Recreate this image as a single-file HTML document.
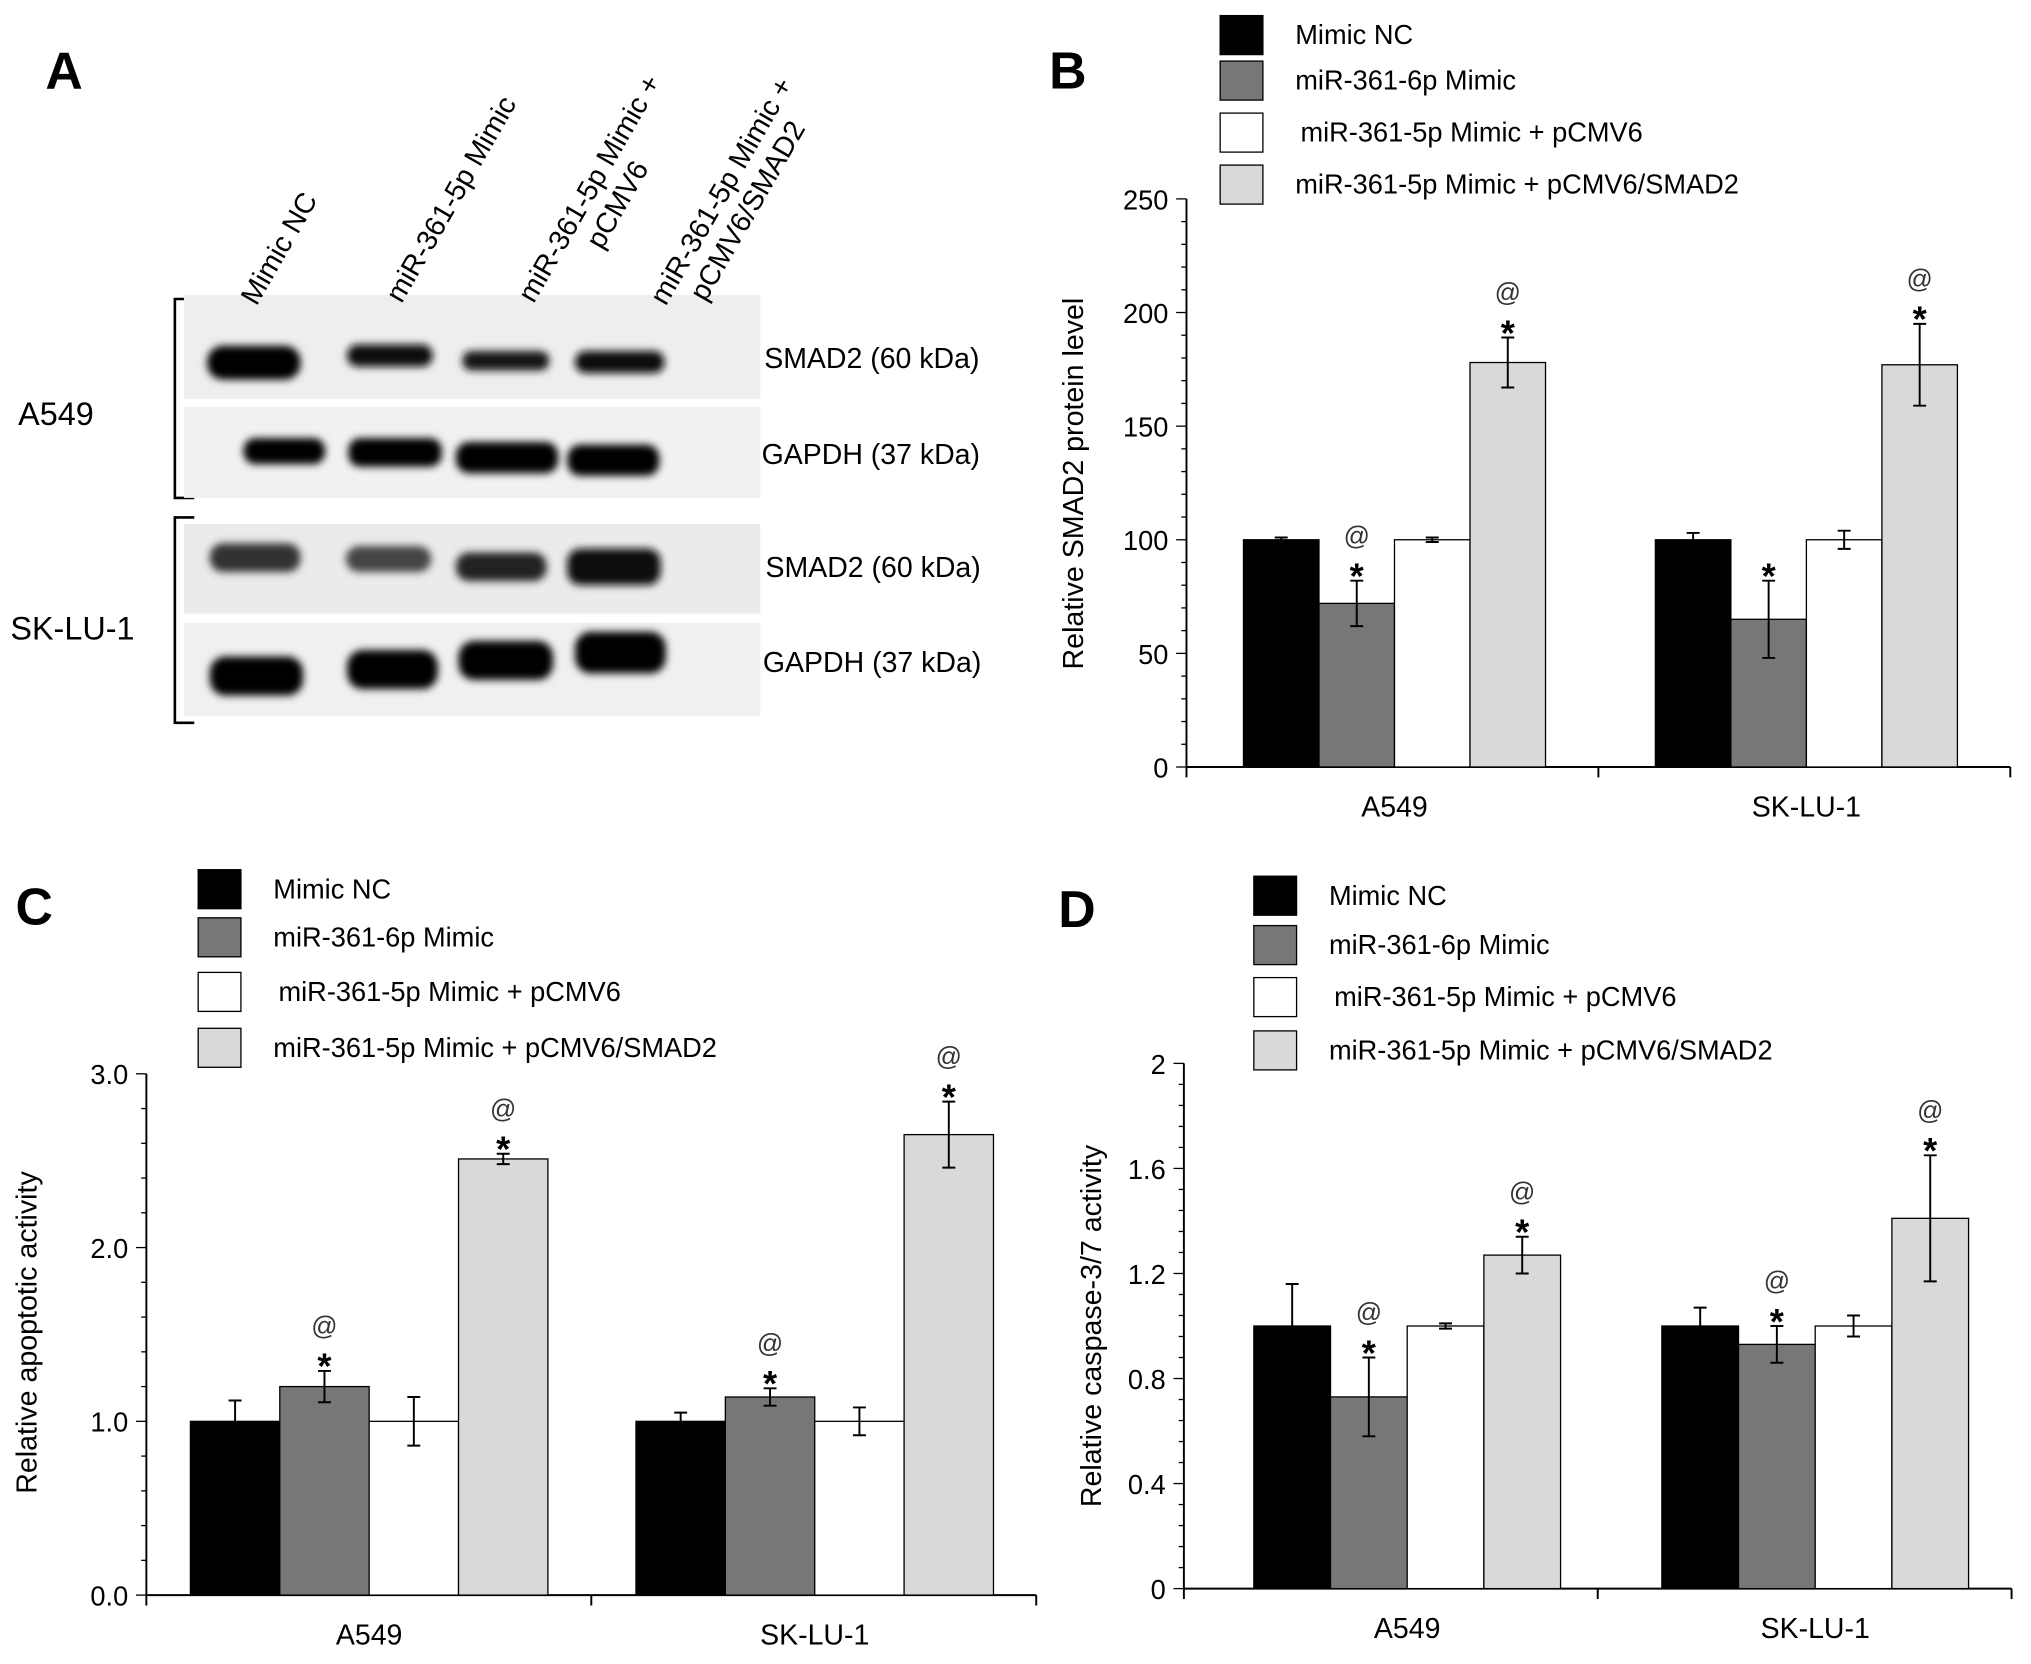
<!DOCTYPE html>
<html><head><meta charset="utf-8"><style>
html,body{margin:0;padding:0;background:#fff;}
svg{display:block;font-family:"Liberation Sans",Arial,sans-serif;}
</style></head><body>
<svg id="fig" width="2031" height="1664" viewBox="0 0 1568 1280" preserveAspectRatio="none" xmlns="http://www.w3.org/2000/svg">
<defs><filter id="blur" x="-20%" y="-50%" width="140%" height="200%"><feGaussianBlur stdDeviation="3"/></filter></defs>
<g id="panelA">
  <text x="35" y="68" font-size="40" font-weight="bold">A</text>
  <path d="M150,230 H135 V383 H150 M150,398 H135 V556 H150" fill="none" stroke="#000" stroke-width="2"/>
  <text x="14" y="327" font-size="25">A549</text>
  <text x="8" y="492" font-size="25">SK-LU-1</text>
  <rect x="142" y="227" width="445" height="80" fill="#eee"/>
  <rect x="142" y="313" width="445" height="70" fill="#f1f1f1"/>
  <rect x="142" y="403" width="445" height="69" fill="#ebebeb"/>
  <rect x="142" y="479" width="445" height="72" fill="#f0f0f0"/>
  <g font-size="22">
    <text transform="translate(198,236) rotate(-60)">Mimic NC</text>
    <text transform="translate(310,234) rotate(-60)">miR-361-5p Mimic</text>
    <text transform="translate(412,234) rotate(-60)"><tspan x="0" y="0">miR-361-5p Mimic +</tspan><tspan x="62" y="25">pCMV6</tspan></text>
    <text transform="translate(514,236) rotate(-60)"><tspan x="0" y="0">miR-361-5p  Mimic +</tspan><tspan x="18" y="25">pCMV6/SMAD2</tspan></text>
  </g>
  <g filter="url(#blur)">
    <rect x="160" y="266" width="72" height="26" rx="12" fill="#000"/>
    <rect x="268" y="265" width="66" height="17" rx="8" fill="#111"/>
    <rect x="357" y="270" width="67" height="15" rx="7" fill="#161616"/>
    <rect x="444" y="270" width="69" height="17" rx="8" fill="#111"/>
    <rect x="188" y="337" width="63" height="20" rx="9" fill="#000"/>
    <rect x="269" y="337" width="72" height="22" rx="9" fill="#000"/>
    <rect x="352" y="340" width="79" height="24" rx="10" fill="#000"/>
    <rect x="438" y="342" width="71" height="24" rx="10" fill="#000"/>
    <rect x="162" y="418" width="70" height="22" rx="10" fill="#333"/>
    <rect x="267" y="420" width="66" height="20" rx="10" fill="#444"/>
    <rect x="352" y="425" width="70" height="22" rx="10" fill="#222"/>
    <rect x="438" y="422" width="72" height="28" rx="10" fill="#111"/>
    <rect x="162" y="505" width="72" height="30" rx="12" fill="#000"/>
    <rect x="268" y="500" width="70" height="30" rx="12" fill="#000"/>
    <rect x="354" y="493" width="73" height="30" rx="12" fill="#000"/>
    <rect x="444" y="486" width="70" height="32" rx="12" fill="#000"/>
  </g>
  <g font-size="22">
    <text x="590" y="283">SMAD2 (60 kDa)</text>
    <text x="588" y="357">GAPDH (37 kDa)</text>
    <text x="591" y="444">SMAD2 (60 kDa)</text>
    <text x="589" y="517">GAPDH (37 kDa)</text>
  </g>
</g>
<g id="chartB"></g><g id="chartC"></g><g id="chartD"></g>
</svg>
<script>
const NS="http://www.w3.org/2000/svg";
const cats=["A549","SK-LU-1"];
const series=["Mimic NC","miR-361-6p Mimic","miR-361-5p Mimic + pCMV6","miR-361-5p Mimic + pCMV6/SMAD2"];
const colors=["#000","#777","#fff","#d9d9d9"];
const bVals=[[100,72,100,178],[100,65,100,177]];
const bErr=[[1,10,1,11],[3,17,4,18]];
const bMarks=[["","*@","","*@"],["","*","","*@"]];
const bTicks=["0","50","100","150","200","250"];
const cVals=[[1.0,1.2,1.0,2.51],[1.0,1.14,1.0,2.65]];
const cErr=[[0.12,0.09,0.14,0.03],[0.05,0.05,0.08,0.19]];
const cMarks=[["","*@","","*@"],["","*@","","*@"]];
const cTicks=["0.0","1.0","2.0","3.0"];
const dVals=[[1.0,0.73,1.0,1.27],[1.0,0.93,1.0,1.41]];
const dErr=[[0.16,0.15,0.01,0.07],[0.07,0.07,0.04,0.24]];
const dMarks=[["","*@","","*@"],["","*@","","*@"]];
const dTicks=["0","0.4","0.8","1.2","1.6","2"];

function mk(parent,tag,attrs,text){const e=document.createElementNS(NS,tag);for(const k in attrs)e.setAttribute(k,attrs[k]);if(text!=null)e.textContent=text;parent.appendChild(e);return e;}

function chart(cfg){
  const g=document.getElementById(cfg.id);
  const {x0,x1,y0,y1,max,vals,err,marks,ticks,groupStart,bw}=cfg;
  const ys=v=>y0-(v/max)*(y0-y1);
  const t=mk(g,'text',{x:cfg.letter[0],y:cfg.letter[1],'font-size':40,'font-weight':'bold'},cfg.letterText);
  
  
  series.forEach((s,i)=>{
    const ly=cfg.legY[i];
    const r=mk(g,'rect',{x:cfg.legX,y:ly-15,width:33,height:30,fill:colors[i],stroke:'#000','stroke-width':1});
    
    
    const tx=mk(g,'text',{x:cfg.legX+(i==2?62:58),y:ly+7,'font-size':21},s);
    
    
  });
  const ax=mk(g,'path',{d:`M${x0},${y1} V${y0} H${x1}`,fill:'none',stroke:'#000','stroke-width':1.5});
  
  
  const mid=(x0+x1)/2;
  [x0,mid,x1].forEach(x=>{const l=mk(g,'line',{x1:x,x2:x,y1:y0,y2:y0+8,stroke:'#000','stroke-width':1.5});});
  const nt=ticks.length-1;
  for(let i=0;i<=nt*5;i++){const y=y0-i*(y0-y1)/(nt*5);const len=i%5==0?8:4;mk(g,'line',{x1:x0-len,x2:x0,y1:y,y2:y,stroke:'#000','stroke-width':1});}
  ticks.forEach((tk,i)=>{const tl=mk(g,'text',{x:x0-14,y:ys(parseFloat(tk))+8,'font-size':21,'text-anchor':'end'},tk);});
  const yt=mk(g,'text',{transform:`translate(${cfg.ytX},${cfg.ytY}) rotate(-90)`,'font-size':22,'text-anchor':'middle'},cfg.yTitle);
  
  
  cats.forEach((c,ci)=>{
    const gs=groupStart[ci];
    const cl=mk(g,'text',{x:gs+2*bw,y:y0+38,'font-size':22,'text-anchor':'middle'},c);
    
    
    vals[ci].forEach((v,si)=>{
      const x=gs+si*bw;const y=ys(v);
      const b=mk(g,'rect',{x:x,y:y,width:bw,height:y0-y,fill:colors[si],stroke:'#000','stroke-width':1});
      
      
      const cx=x+bw/2,ya=ys(v+err[ci][si]),yb=ys(v-err[ci][si]);
      const e=mk(g,'path',{d:`M${cx},${ya} V${yb} M${cx-5},${ya} H${cx+5} M${cx-5},${yb} H${cx+5}`,stroke:'#000','stroke-width':1.5,fill:'none'});
      
      
      const m=marks[ci][si];
      if(m.includes('*')){const s=mk(g,'text',{x:cx,y:ya+6,'font-size':28,'text-anchor':'middle','font-weight':'bold'},'*');}
      if(m.includes('@')){const a=mk(g,'text',{x:cx,y:ya-28,'font-size':20,'text-anchor':'middle','fill':'#333'},'@');}
    });
  });
}
chart({id:'chartB',letter:[810,68],letterText:'B',x0:916,x1:1552,y0:590,y1:153,max:250,vals:bVals,err:bErr,marks:bMarks,ticks:bTicks,groupStart:[960,1278],bw:58.3,legX:942,legY:[27,62,102,142],yTitle:'Relative SMAD2 protein level',ytX:836,ytY:372});
chart({id:'chartC',letter:[12,711],letterText:'C',x0:113,x1:800,y0:1227,y1:826,max:3,vals:cVals,err:cErr,marks:cMarks,ticks:cTicks,groupStart:[147,491],bw:69,legX:153,legY:[684,721,763,806],yTitle:'Relative apoptotic activity',ytX:28,ytY:1025});
chart({id:'chartD',letter:[817,713],letterText:'D',x0:914,x1:1553,y0:1222,y1:818,max:2,vals:dVals,err:dErr,marks:dMarks,ticks:dTicks,groupStart:[968,1283],bw:59.2,legX:968,legY:[689,727,767,808],yTitle:'Relative caspase-3/7 activity',ytX:850,ytY:1020});
</script>
</body></html>
